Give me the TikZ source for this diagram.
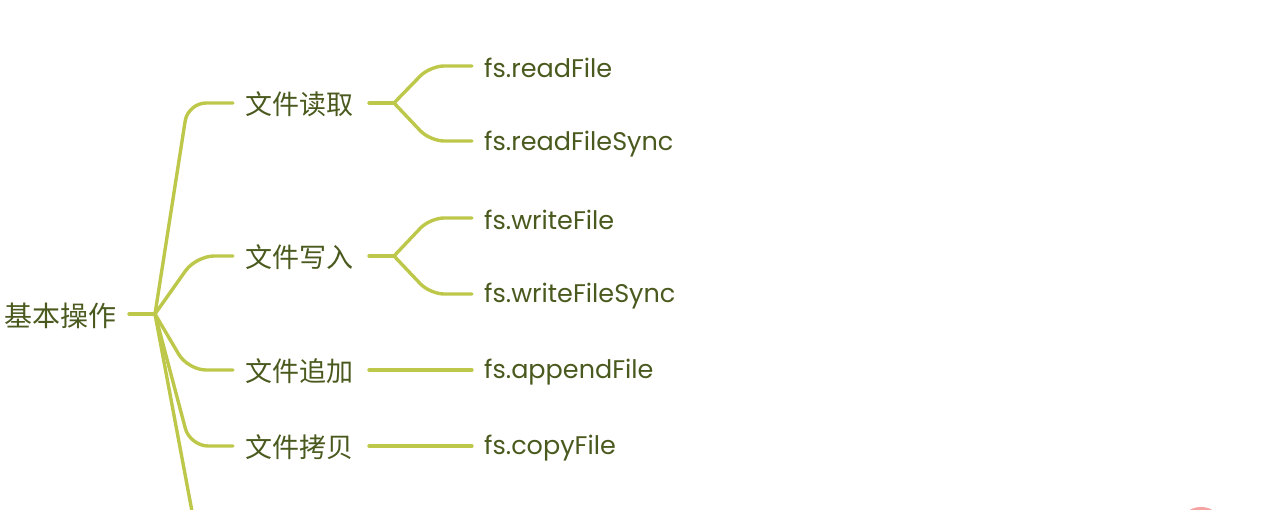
\documentclass[tikz,border=0pt]{standalone}
\usepackage{fontspec}
\setmainfont{Poppins}
\newfontfamily\cjk{Noto Sans CJK SC}
\definecolor{lineC}{HTML}{BDC84B}
\definecolor{txtC}{HTML}{4A5A1E}
\definecolor{pinkC}{HTML}{F5A3A3}
\begin{document}
\begin{tikzpicture}[x=1pt,y=-1pt,
  conn/.style={draw=lineC,line width=3.4pt,rounded corners=18pt,line cap=round},
  conn2/.style={draw=lineC,line width=3.4pt,rounded corners=14pt,line cap=round},
  topic/.style={text=txtC,font=\cjk\fontsize{27}{30}\selectfont,inner sep=0pt,anchor=west},
  leaf/.style={text=txtC,font=\fontsize{25.5}{30}\selectfont,inner sep=0pt,anchor=west}]
\useasboundingbox (0,0) rectangle (1280,510);
\clip (0,0) rectangle (1280,510);
% root
\node[topic,font=\cjk\fontsize{28}{30}\selectfont] (root) at (4,316) {基本操作};
\coordinate (rootR) at (129,314);
\coordinate (hub) at (155,314);
\draw[conn] (rootR) -- (hub);
% level 1 topics
\node[topic] (t1) at (245,104) {文件读取};
\node[topic] (t2) at (245,257) {文件写入};
\node[topic] (t3) at (245,371) {文件追加};
\node[topic] (t4) at (245,447) {文件拷贝};
\coordinate (t5) at (246,570);
\draw[conn] (hub) -- (188,103) -- (233,103);
\draw[conn] (hub) -- (196,256) -- (233,256);
\draw[conn] (hub) -- (188,370) -- (233,370);
\draw[conn] (hub) -- (190,446) -- (233,446);
\draw[conn] (hub) -- (203,570) -- (t5);
% level 2
\node[leaf] (l1) at (484,68) {fs.readFile};
\node[leaf] (l2) at (484,144) {fs.readFileSync};
\node[leaf] (l3) at (484,220) {fs.writeFile};
\node[leaf] (l4) at (484,296) {fs.writeFileSync};
\node[leaf] (l5) at (484,372) {fs.appendFile};
\node[leaf] (l6) at (484,448) {fs.copyFile};
\coordinate (h1) at (394,103);
\coordinate (h2) at (394,256);
\draw[conn] (369,103) -- (h1);
\draw[conn2] (h1) -- (430,66) -- (472,66);
\draw[conn2] (h1) -- (430,141) -- (472,141);
\draw[conn] (369,256) -- (h2);
\draw[conn2] (h2) -- (430,218) -- (472,218);
\draw[conn2] (h2) -- (430,294) -- (472,294);
\draw[conn] (369,370) -- (472,370);
\draw[conn] (369,446) -- (472,446);
% pink fragment
\fill[pinkC] (1201,516) ellipse (15pt and 9pt);
\end{tikzpicture}
\end{document}
